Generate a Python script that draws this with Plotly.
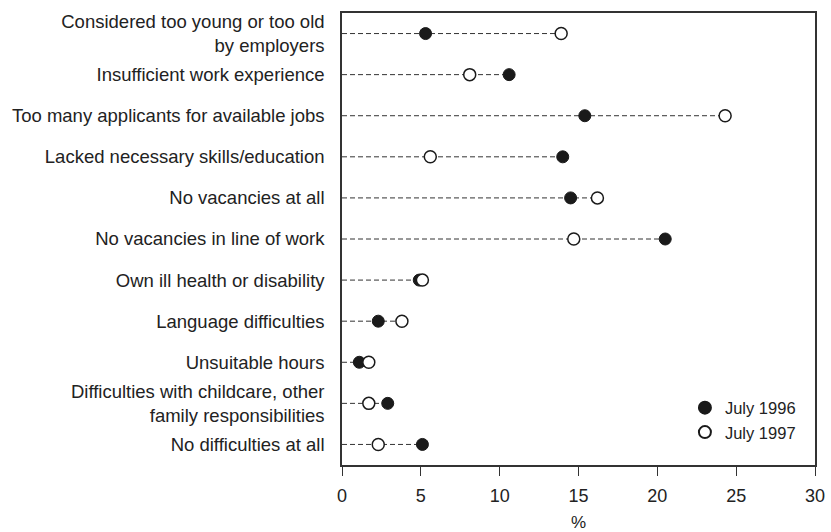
import plotly.graph_objects as go

categories = [
    "Considered too young or too old<br>by employers",
    "Insufficient work experience",
    "Too many applicants for available jobs",
    "Lacked necessary skills/education",
    "No vacancies at all",
    "No vacancies in line of work",
    "Own ill health or disability",
    "Language difficulties",
    "Unsuitable hours",
    "Difficulties with childcare, other<br>family responsibilities",
    "No difficulties at all",
]
july_1996 = [5.3, 10.6, 15.4, 14.0, 14.5, 20.5, 4.9, 2.3, 1.1, 2.9, 5.1]
july_1997 = [13.9, 8.1, 24.3, 5.6, 16.2, 14.7, 5.1, 3.8, 1.7, 1.7, 2.3]
x_ticks = [0, 5, 10, 15, 20, 25, 30]

FONT = "Liberation Sans, Arial, sans-serif"
DARK = "#1a1a1a"

fig = go.Figure()

# dashed guide lines from axis to the furthest point of each row
lx, ly = [], []
for c, a, b in zip(categories, july_1996, july_1997):
    lx += [0, max(a, b), None]
    ly += [c, c, None]
fig.add_trace(go.Scatter(
    x=lx, y=ly, mode="lines", showlegend=False, hoverinfo="skip",
    line=dict(color="#333333", width=1, dash="5px,3px"),
))

fig.add_trace(go.Scatter(
    x=july_1996, y=categories, mode="markers", name="July 1996",
    marker=dict(size=12, color=DARK, line=dict(color=DARK, width=1)),
))
fig.add_trace(go.Scatter(
    x=july_1997, y=categories, mode="markers", name="July 1997",
    marker=dict(size=12, color="white", line=dict(color=DARK, width=1.5)),
))

fig.update_layout(
    width=831, height=532,
    margin=dict(l=342, r=16, t=13, b=67),
    paper_bgcolor="white", plot_bgcolor="white",
    font=dict(family=FONT, size=18.5, color="#222222"),
    legend=dict(
        x=0.725, y=0.165, xanchor="left", yanchor="top",
        bgcolor="rgba(0,0,0,0)", borderwidth=0,
        font=dict(size=16.5, color="#222222"),
        itemsizing="constant",
    ),
    xaxis=dict(
        range=[0, 30], tickvals=x_ticks, ticktext=[str(v) for v in x_ticks],
        showgrid=False, zeroline=False, automargin=False,
        showline=True, linecolor="#333333", linewidth=1.5, mirror=True,
        ticks="outside", ticklen=9, tickcolor="#333333",
        tickfont=dict(size=18), ticklabelstandoff=5,
        title=dict(text="%", font=dict(size=17), standoff=16),
    ),
    yaxis=dict(
        type="category", categoryorder="array", categoryarray=categories,
        range=[len(categories) - 0.5, -0.5],
        showgrid=False, zeroline=False, automargin=False,
        showline=True, linecolor="#333333", linewidth=1.5, mirror=True,
        ticks="", ticklabelstandoff=12,
    ),
)

fig.write_html(
    "out.html",
    config={"displayModeBar": False},
    post_script="document.body.style.margin='0';",
)
